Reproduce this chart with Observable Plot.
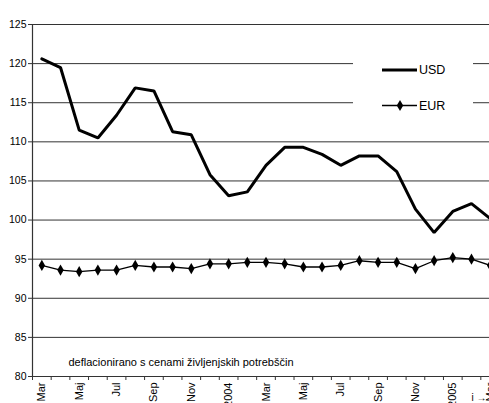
<!DOCTYPE html>
<html><head><meta charset="utf-8">
<script src="https://cdn.jsdelivr.net/npm/d3@7"></script>
<script src="https://cdn.jsdelivr.net/npm/@observablehq/plot@0.6"></script>
<style>html,body{margin:0;padding:0;background:#fff;overflow:hidden;}</style>
</head><body><div id="chart"></div>
<script>
const months = ["Mar","Apr","Maj","Jun","Jul","Avg","Sep","Okt","Nov","Dec","Jan","Feb","Mar","Apr","Maj","Jun","Jul","Avg","Sep","Okt","Nov","Dec","Jan","Feb","Mar"];
const tickLabels = ["Mar","","Maj","","Jul","","Sep","","Nov","","2004","","Mar","","Maj","","Jul","","Sep","","Nov","","2005","","Mar"];
const usd = [120.6,119.5,111.5,110.5,113.4,116.9,116.5,111.3,110.9,105.8,103.1,103.6,107.0,109.3,109.3,108.4,107.0,108.2,108.2,106.2,101.4,98.4,101.1,102.1,100.2];
const eur = [94.2,93.6,93.4,93.6,93.6,94.2,94.0,94.0,93.8,94.4,94.4,94.6,94.6,94.4,94.0,94.0,94.2,94.8,94.6,94.6,93.8,94.8,95.2,95.0,94.2];
const yTicks = [80,85,90,95,100,105,110,115,120,125];
const seriesNames = ["USD","EUR"];
const note = "deflacionirano s cenami življenjskih potrebščin";

const rows = months.map((m, i) => ({i: i + 0.5, month: m, label: tickLabels[i], usd: usd[i], eur: eur[i]}));
const font = "'Liberation Sans', Arial, sans-serif";

const plot = Plot.plot({
  width: 489, height: 403,
  marginLeft: 32, marginTop: 24, marginBottom: 27, marginRight: 0,
  style: {fontFamily: font, background: "white", color: "black"},
  x: {domain: [0, 25], range: [32, 499], axis: null},
  y: {domain: [80, 125], axis: null},
  marks: [
    Plot.gridY(yTicks, {stroke: "#333", strokeOpacity: 1, strokeWidth: 1}),
    Plot.axisY(yTicks, {tickSize: 4, tickPadding: 2, fontSize: 10.5, stroke: "#333"}),
    Plot.ruleX([0], {stroke: "#333", strokeWidth: 1.2}),
    Plot.axisX(d3.range(26), {tickSize: 4, tickFormat: () => "", stroke: "#333"}),
    Plot.text(rows.filter(d => d.label), {x: "i", text: "label", frameAnchor: "bottom", rotate: -90, textAnchor: "end", lineAnchor: "middle", dy: 6, fontSize: 11}),
    Plot.text([note], {frameAnchor: "bottom-left", dx: 36, dy: -11, textAnchor: "start", lineAnchor: "bottom", fontSize: 11}),
    Plot.line(rows, {x: "i", y: "eur", stroke: "black", strokeWidth: 1.3}),
    Plot.dot(rows, {x: "i", y: "eur", symbol: "diamond", r: 3.4, fill: "black", stroke: "none"}),
    Plot.line(rows, {x: "i", y: "usd", stroke: "black", strokeWidth: 3, strokeLinejoin: "miter"})
  ]
});

// legend box
const svg = d3.select(plot);
const lg = svg.append("g").attr("font-family", font).attr("text-anchor", "start");
lg.append("rect").attr("x", 353).attr("y", 36).attr("width", 120).attr("height", 92).attr("fill", "white");
lg.append("line").attr("x1", 382).attr("x2", 417).attr("y1", 70).attr("y2", 70).attr("stroke", "black").attr("stroke-width", 3);
lg.append("text").attr("x", 419).attr("y", 74).attr("font-size", 12.5).attr("text-anchor", "start").text(seriesNames[0]);
lg.append("line").attr("x1", 382).attr("x2", 417).attr("y1", 105.5).attr("y2", 105.5).attr("stroke", "black").attr("stroke-width", 1.3);
lg.append("path").attr("d", d3.symbol(d3.symbolDiamond, 36)()).attr("transform", "translate(400,105.5)").attr("fill", "black");
lg.append("text").attr("x", 419).attr("y", 110).attr("font-size", 12.5).attr("text-anchor", "start").text(seriesNames[1]);

document.getElementById("chart").appendChild(plot);
</script>
</body></html>
